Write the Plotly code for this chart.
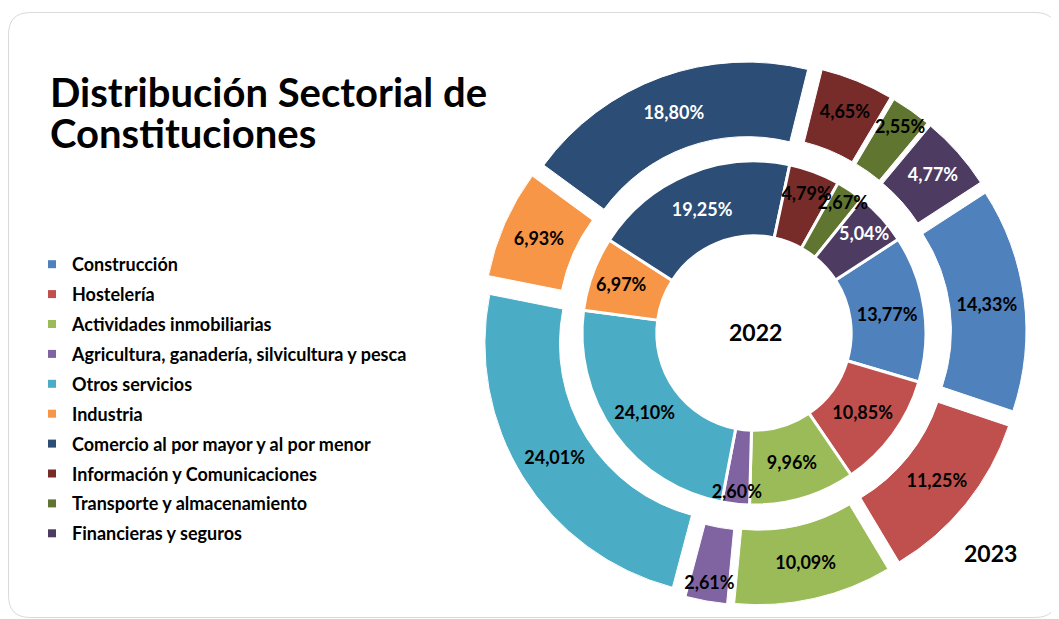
import plotly.graph_objects as go

# datos (% de constituciones por sector)
sectores = ["Construcción", "Hostelería", "Actividades inmobiliarias",
            "Agricultura, ganadería, silvicultura y pesca", "Otros servicios",
            "Industria", "Comercio al por mayor y al por menor",
            "Información y Comunicaciones", "Transporte y almacenamiento",
            "Financieras y seguros"]
pct_2022 = [13.77, 10.85, 9.96, 2.60, 24.10, 6.97, 19.25, 4.79, 2.67, 5.04]
pct_2023 = [14.33, 11.25, 10.09, 2.61, 24.01, 6.93, 18.80, 4.65, 2.55, 4.77]

colores = ["#4F81BD", "#C0504D", "#9BBB59", "#8064A2", "#4BACC6",
           "#F79646", "#2C4D75", "#772C2A", "#5F7530", "#4D3B62"]
color_texto = ["black", "black", "black", "black", "black",
               "black", "white", "black", "black", "white"]

# the page puts the plot 8px in from the top-left corner
OFF = 8
W, H = 1059 - OFF, 619 - OFF
FONT = "Lato"

def px(x):
    return (x - OFF) / W

def py(y):
    return 1 - (y - OFF) / H

# geometry in page pixels
cx, cy = 754, 333
r_in, hole_in = 172, 0.565
r_out, hole_out, pull = 252, 0.704, 0.08

fig = go.Figure()

def donut(vals, r, hole, pull_, line_w, name):
    half = r * (1 + pull_)
    dom = dict(x=[px(cx - half), px(cx + half)], y=[py(cy + half), py(cy - half)])
    # coloured ring
    fig.add_trace(go.Pie(
        labels=sectores, values=vals, name=name,
        sort=False, direction="clockwise", rotation=57,
        hole=hole, pull=pull_,
        marker=dict(colors=colores, line=dict(color="white", width=line_w)),
        textinfo="none", domain=dom, showlegend=False, hoverinfo="label+percent",
    ))
    # same ring, transparent, only for the labels so they sit above every slice
    fig.add_trace(go.Pie(
        labels=sectores, values=vals, name=name,
        sort=False, direction="clockwise", rotation=57,
        hole=hole, pull=pull_,
        marker=dict(colors=["rgba(0,0,0,0)"] * len(vals), line=dict(width=0)),
        texttemplate="%{value:.2f}%", textposition="inside",
        insidetextorientation="horizontal",
        insidetextfont=dict(family=FONT, size=18, color=color_texto, weight="bold"),
        domain=dom, showlegend=False, hoverinfo="skip",
    ))

donut(pct_2022, r_in, hole_in, 0, 3, "2022")
donut(pct_2023, r_out, hole_out, pull, 1, "2023")

# legend entries (squares), one per sector
for s, c in zip(sectores, colores):
    fig.add_trace(go.Scatter(
        x=[None], y=[None], mode="markers", name=s, legendgroup=s,
        marker=dict(symbol="square", size=8, color=c),
    ))

fig.add_annotation(text="Distribución Sectorial de", x=px(48), y=py(118),
                   xref="paper", yref="paper", xanchor="left", yanchor="bottom",
                   showarrow=False, font=dict(family=FONT, size=40, color="black", weight="bold"))
fig.add_annotation(text="Constituciones", x=px(48), y=py(159),
                   xref="paper", yref="paper", xanchor="left", yanchor="bottom",
                   showarrow=False, font=dict(family=FONT, size=40, color="black", weight="bold"))
fig.add_annotation(text="2022", x=px(755), y=py(332), xref="paper", yref="paper",
                   xanchor="center", yanchor="middle",
                   showarrow=False, font=dict(family=FONT, size=23, color="black", weight="bold"))
fig.add_annotation(text="2023", x=px(990), y=py(553), xref="paper", yref="paper",
                   xanchor="center", yanchor="middle",
                   showarrow=False, font=dict(family=FONT, size=23, color="black", weight="bold"))

# rounded card border
x0, y0, x1, y1, rr = 8.5, 12.5, 1057, 617.5, 22
card = (f"M {px(x0)},{py(y0 + rr)} Q {px(x0)},{py(y0)} {px(x0 + rr)},{py(y0)} "
        f"L {px(x1 - rr)},{py(y0)} Q {px(x1)},{py(y0)} {px(x1)},{py(y0 + rr)} "
        f"L {px(x1)},{py(y1 - rr)} Q {px(x1)},{py(y1)} {px(x1 - rr)},{py(y1)} "
        f"L {px(x0 + rr)},{py(y1)} Q {px(x0)},{py(y1)} {px(x0)},{py(y1 - rr)} Z")
fig.add_shape(type="path", path=card, xref="paper", yref="paper",
              line=dict(color="#D9D9D9", width=1), layer="below")

fig.update_layout(
    width=W, height=H,
    margin=dict(l=0, r=0, t=0, b=0),
    paper_bgcolor="white", plot_bgcolor="white",
    separators=",.",
    uniformtext=dict(minsize=18, mode="show"),
    xaxis=dict(visible=False), yaxis=dict(visible=False),
    legend=dict(x=px(32), y=py(246), xanchor="left", yanchor="top",
                tracegroupgap=3.5, bgcolor="rgba(0,0,0,0)",
                font=dict(family=FONT, size=18, color="black", weight="bold")),
)

fig.write_html("out.html")
